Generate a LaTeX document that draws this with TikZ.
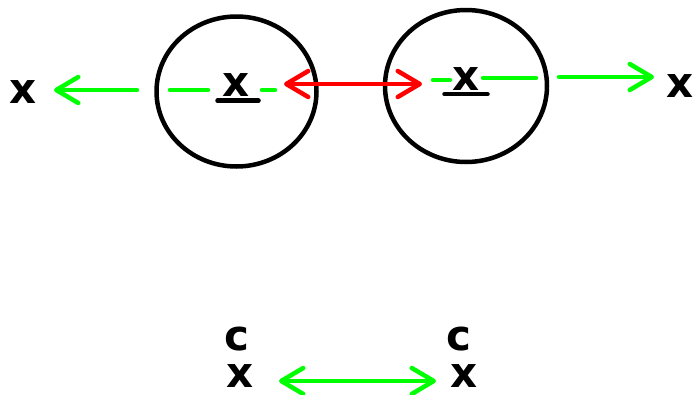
\documentclass[tikz,border=0pt]{standalone}
\usepackage{fontspec}
\setmainfont{DejaVu Sans}
\usetikzlibrary{arrows.meta,shapes.geometric}
\definecolor{grn}{RGB}{0,255,0}
\definecolor{rd}{RGB}{255,0,0}
\begin{document}
\begin{tikzpicture}[x=1pt,y=-1pt,
  lbl/.style={inner sep=0pt, font=\fontsize{42}{42}\selectfont\bfseries},
  ring/.style={draw, shape=ellipse, line width=4.5pt, inner sep=0pt},
  uline/.style={line width=4.5pt, line cap=round},
  barb/.style={-{Straight Barb[length=22pt,width=26pt,line cap=round,line join=round]}},
  dbarb/.style={{Straight Barb[length=22pt,width=26pt,line cap=round,line join=round]}-{Straight Barb[length=22pt,width=26pt,line cap=round,line join=round]}},
  gline/.style={grn, line width=4.5pt, line cap=round},
  rline/.style={rd, line width=4.5pt, line cap=round}]
\useasboundingbox (0,0) rectangle (694,394);
% circles
\node[ring, minimum width=160pt, minimum height=150pt] (c1) at (236.5,91.5) {};
\node[ring, minimum width=162pt, minimum height=152pt] (c2) at (466,86) {};
% labels
\node[lbl] (l1) at (236.5,85) {x};
\node[lbl] (l2) at (466.5,79.5) {x};
\node[lbl] (xl) at (23,92) {x};
\node[lbl] (xr) at (680,86) {x};
\node[lbl] (cb1) at (236.5,339) {c};
\node[lbl] (xb1) at (240.5,376) {x};
\node[lbl] (cb2) at (458.5,339) {c};
\node[lbl] (xb2) at (464.5,376) {x};
% underlines
\draw[uline] ([xshift=-19pt,yshift=-4pt]l1.south) -- ([xshift=22pt,yshift=-4pt]l1.south);
\draw[uline] ([xshift=-22pt,yshift=-3pt]l2.south) -- ([xshift=21pt,yshift=-3pt]l2.south);
% green left
\coordinate (g1a) at (137,90);
\coordinate (g1b) at (54,90);
\coordinate (g2a) at (170,90);
\coordinate (g2b) at (208,90);
\coordinate (g3a) at (262,90);
\coordinate (g3b) at (275,90);
\draw[gline, barb] (g1a) -- (g1b);
\draw[gline] (g2a) -- (g2b);
\draw[gline] (g3a) -- (g3b);
% red double arrow
\coordinate (r1) at (284,84);
\coordinate (r2) at (422,84);
\draw[rline, dbarb] (r1) -- (r2);
% green right
\coordinate (h1a) at (433,80);
\coordinate (h1b) at (450,80);
\coordinate (h2a) at (483,78);
\coordinate (h2b) at (536,78);
\coordinate (h3a) at (559,77);
\coordinate (h3b) at (654,77);
\draw[gline] (h1a) -- (h1b);
\draw[gline] (h2a) -- (h2b);
\draw[gline, barb] (h3a) -- (h3b);
% bottom green double arrow
\coordinate (b1) at (279,381);
\coordinate (b2) at (436,381);
\draw[gline, dbarb] (b1) -- (b2);
\end{tikzpicture}
\end{document}
